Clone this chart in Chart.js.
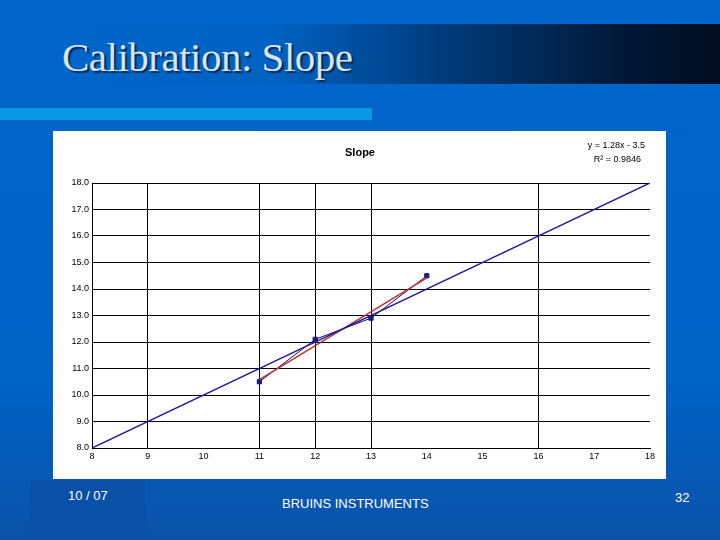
<!DOCTYPE html>
<html>
<head>
<meta charset="utf-8">
<script src="https://cdn.jsdelivr.net/npm/chart.js@4.4.1/dist/chart.umd.min.js"></script>
<style>
  body { margin: 0; width: 720px; height: 540px; overflow: hidden; position: relative;
         background: linear-gradient(180deg, #0066cc 0%, #0063c6 70%, #0a52a8 100%); font-family: "Liberation Sans", Arial, sans-serif; }
  #titlebar { position: absolute; left: 0; top: 24px; width: 720px; height: 60px;
              background: linear-gradient(90deg, #0066cc 0%, #0062c2 38%, #003b7a 62%, #001a3a 85%, #000c1c 100%); }
  #title { position: absolute; left: 62px; top: 33px; font-family: "Liberation Serif", serif; font-size: 41px;
           color: #d8e4f2; text-shadow: 2px 2px 1px #0a2a55; letter-spacing: -0.5px; }
  #bar { position: absolute; left: 0; top: 108px; width: 372px; height: 12px; background: #0a98e2; }
  #col { position: absolute; left: 30px; top: 480px; width: 115px; height: 60px; background: #0a50a6; }
  #box { position: absolute; left: 53px; top: 131px; width: 613px; height: 348px; background: #fff; }
  .foot { position: absolute; color: #fff; font-size: 13px; }
</style>
</head>
<body>
<div id="titlebar"></div>
<div id="title">Calibration: Slope</div>
<div id="bar"></div>
<div id="col"></div>
<div id="box"><canvas id="chart" width="613" height="348"></canvas></div>
<div class="foot" style="left:68px;top:488px;">10 / 07</div>
<div class="foot" style="left:282px;top:496px;">BRUINS INSTRUMENTS</div>
<div class="foot" style="left:675px;top:490px;">32</div>
<script>
// measured points
const xValues = [11, 12, 13, 14];
const yValues = [10.5, 12.1, 12.9, 14.5];
// trend line y = 1.28x - 3.5
const trendX = [11, 14];
const trendY = [10.58, 14.42];
// ideal line y = x
const idealX = [8, 18];
const idealY = [8, 18];
const visibleXGrid = [9, 11, 12, 13, 16];

const pts = (xs, ys) => xs.map((x, i) => ({ x: x, y: ys[i] }));

const labels = {
    id: "labels",
    afterDraw(c) {
        const ctx = c.ctx;
        ctx.save();
        ctx.fillStyle = "#000";
        ctx.font = "bold 11px 'Liberation Sans', Arial";
        ctx.textAlign = "center";
        ctx.fillText("Slope", 307, 25);
        ctx.font = "9px 'Liberation Sans', Arial";
        ctx.textAlign = "right";
        ctx.fillText("y = 1.28x - 3.5", 592, 17);
        ctx.fillText("R² = 0.9846", 588, 31);
        ctx.restore();
    }
};

new Chart(document.getElementById("chart"), {
    type: "scatter",
    data: {
        datasets: [
            { data: pts(idealX, idealY), showLine: true, borderColor: "#1a1aa0", borderWidth: 1.5, pointRadius: 0 },
            { data: pts(trendX, trendY), showLine: true, borderColor: "#c0302a", borderWidth: 1.5, pointRadius: 0 },
            { data: pts(xValues, yValues), showLine: true, borderColor: "#10106a", borderWidth: 1,
              pointStyle: "rect", pointRadius: 3, pointBackgroundColor: "#1a1a80", pointBorderColor: "#1a1a80" }
        ]
    },
    options: {
        responsive: false,
        animation: false,
        layout: { padding: { top: 52, right: 16, left: 0, bottom: 0 } },
        plugins: { legend: { display: false }, tooltip: { enabled: false } },
        scales: {
            x: {
                min: 8, max: 18,
                afterFit: s => { s.height = 31; },
                ticks: { stepSize: 1, color: "#000", font: { size: 9, family: "'Liberation Sans', Arial" } },
                grid: { color: ctx => visibleXGrid.includes(ctx.tick && ctx.tick.value) ? "#000" : "rgba(0,0,0,0)", drawTicks: false },
                border: { color: "#000" }
            },
            y: {
                min: 8, max: 18,
                afterFit: s => { s.width = 39; },
                ticks: { stepSize: 1, color: "#000", font: { size: 9, family: "'Liberation Sans', Arial" },
                         callback: v => v.toFixed(1) },
                grid: { color: "#000", drawTicks: false },
                border: { color: "#000" }
            }
        }
    },
    plugins: [labels]
});
</script>
</body>
</html>
